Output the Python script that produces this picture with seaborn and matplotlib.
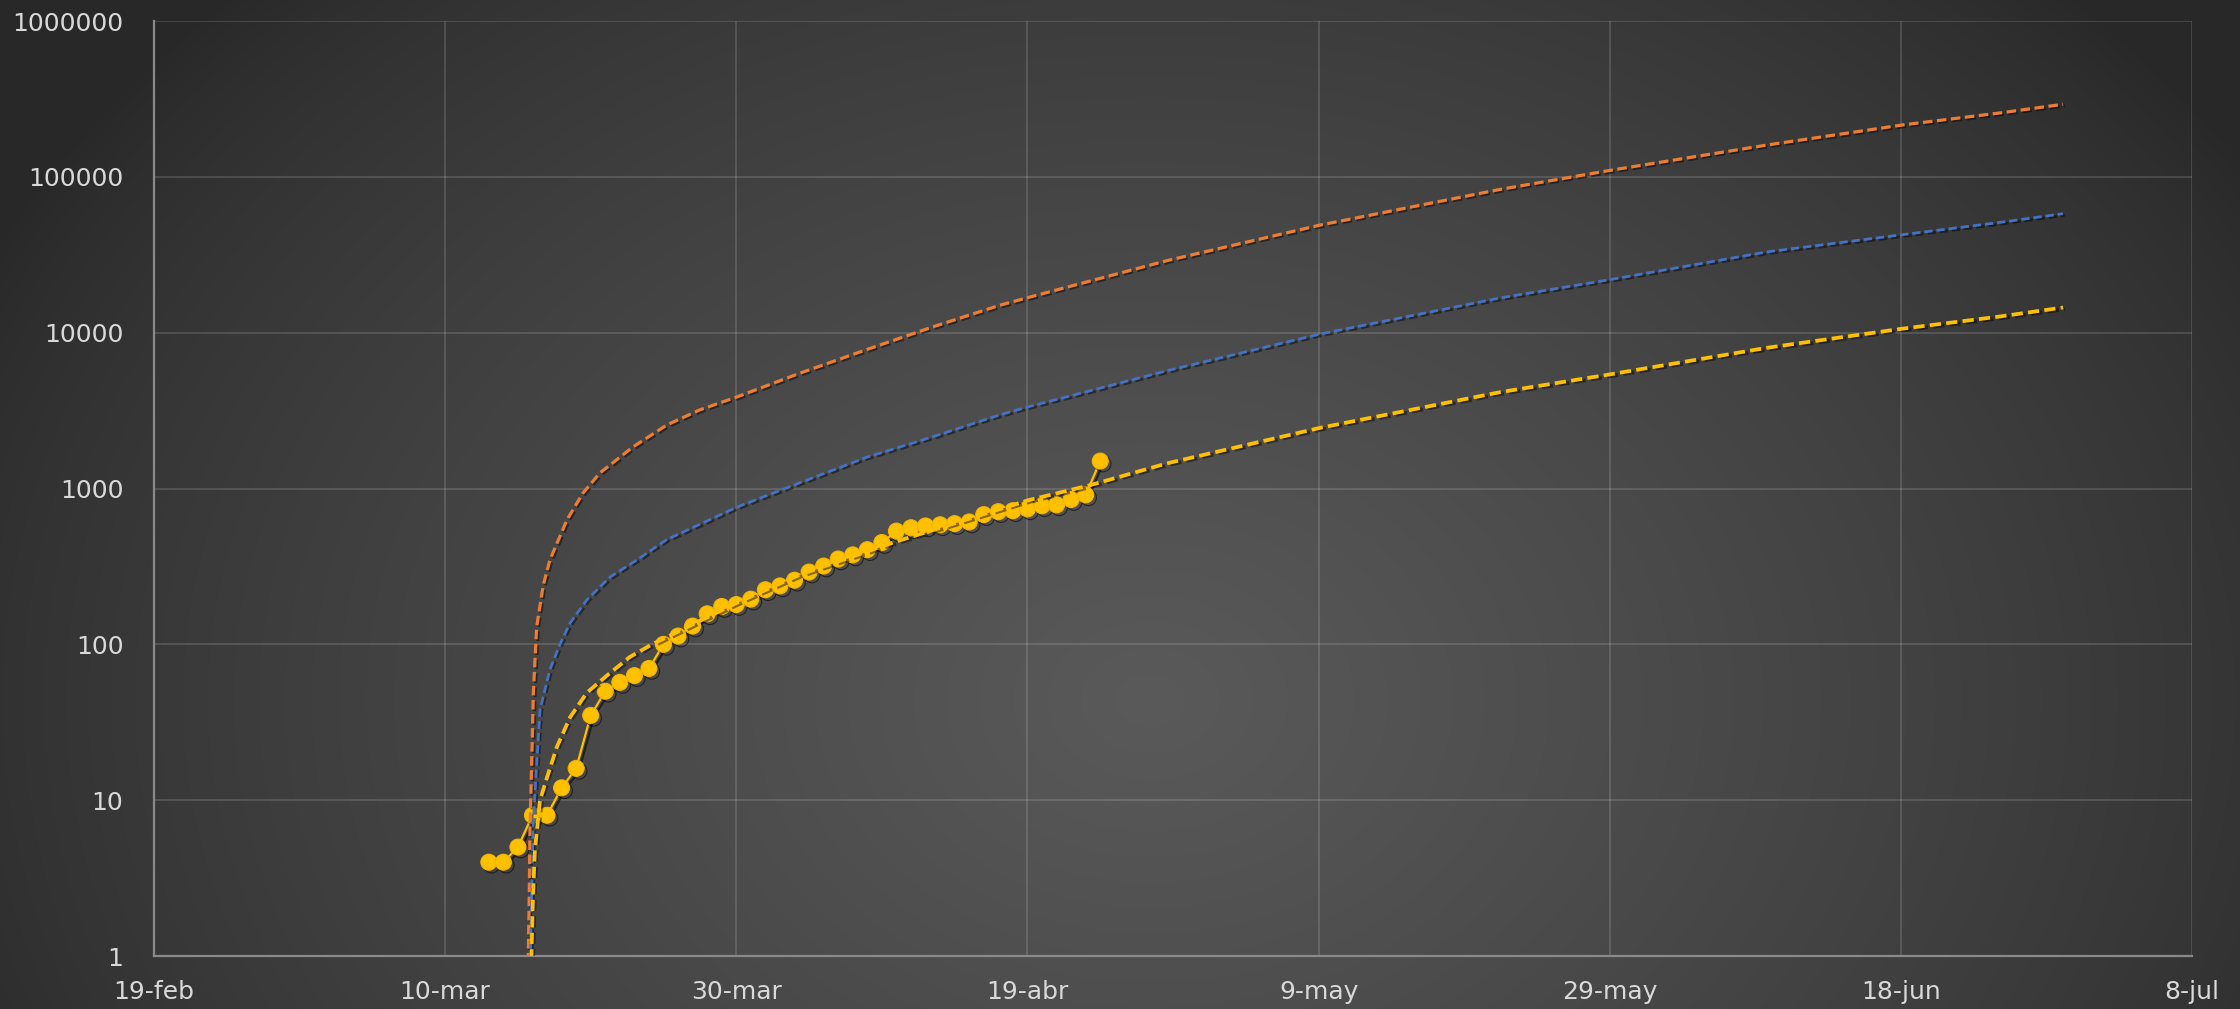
import numpy as np
import pandas as pd
import matplotlib
matplotlib.use("Agg")
import matplotlib.pyplot as plt
import matplotlib.patheffects as pe
from matplotlib.ticker import NullLocator
import seaborn as sns

# ---- data -------------------------------------------------------------
# Confirmed cases, one value per day from 13-mar to 24-abr 2020
case_dates = pd.date_range("2020-03-13", "2020-04-24", freq="D")
cases = [4, 4, 5, 8, 8, 12, 16, 35, 50, 57, 63, 70, 100, 113, 131, 157, 175, 180, 195,
         224, 237, 258, 291, 318, 353, 375, 405, 450, 533, 560, 575, 585, 595, 610,
         680, 710, 720, 740, 775, 785, 850, 910, 1500]

# Projection curves: days counted from 19-feb-2020 and projected cases
axis_start = pd.Timestamp("2020-02-19")

high_days = [25.66, 25.71, 25.78, 25.83, 25.95, 26.06, 26.29, 26.74, 27.20, 28.37,
             29.47, 30.64, 32.91, 35.24, 37.51, 40.05, 44.38, 48.98, 53.51, 58.11,
             60.04, 69.59, 80.10, 92.46, 100.02, 110.81, 120.08, 126.81, 131.14]
high_vals = [0.6, 1.0, 2.5, 6.7, 18, 49, 130, 240, 348, 630,
             935, 1260, 1850, 2560, 3200, 3870, 5500, 7800, 10900, 15000,
             16800, 29000, 49000, 83000, 110000, 160000, 215000, 257000, 292000]

mid_days = [25.81, 25.86, 26.04, 26.17, 26.52, 27.20, 27.89, 28.58, 29.74, 31.32,
            33.17, 35.22, 40.05, 44.38, 48.98, 53.51, 58.11, 60.04, 69.59, 80.10,
            92.46, 100.02, 110.81, 120.08, 126.81, 131.14]
mid_vals = [0.4, 1.0, 6.7, 11, 38, 69, 100, 137, 193, 270,
            348, 470, 760, 1090, 1590, 2150, 2970, 3340, 5700, 9800,
            16700, 21900, 33000, 42500, 51000, 58000]

low_days = [25.89, 25.93, 26.04, 26.17, 26.52, 27.00, 27.68, 28.58, 29.74, 31.11,
            32.69, 34.21, 40.05, 44.38, 50.77, 60.04, 64.30, 69.59, 80.10, 92.46,
            100.02, 110.81, 120.08, 126.81, 131.14]
low_vals = [0.4, 1.0, 2.5, 4.8, 10, 14, 22, 34, 49, 63,
            83, 100, 185, 280, 450, 840, 1050, 1450, 2450, 4150,
            5400, 8000, 10600, 12700, 14500]

tick_dates = pd.date_range("2020-02-19", periods=8, freq="20D")
tick_labels = ["19-feb", "10-mar", "30-mar", "19-abr", "9-may", "29-may", "18-jun", "8-jul"]
y_ticks = [1, 10, 100, 1000, 10000, 100000, 1000000]
y_labels = ["1", "10", "100", "1000", "10000", "100000", "1000000"]

# ---- figure -----------------------------------------------------------
sns.set_theme(style="dark")
plt.rcParams["font.family"] = ["DejaVu Sans"]

W, H = 2240, 1009
fig = plt.figure(figsize=(W / 100, H / 100), dpi=100)

# dark radial gradient behind the whole chart
yy, xx = np.mgrid[0:H, 0:W]
r = np.sqrt(((xx - 1150) / 1300.0) ** 2 + ((yy - 700) / 1000.0) ** 2)
v = (40 + 50 * np.clip(1 - r, 0, 1) ** 0.75) / 255.0
bg = np.dstack([v, v, v])
ax_bg = fig.add_axes([0, 0, 1, 1], zorder=0)
ax_bg.imshow(bg, extent=[0, 1, 0, 1], aspect="auto", interpolation="bilinear")
ax_bg.set_axis_off()

left, right, top, bottom = 154, 2192, 21, 956
ax = fig.add_axes([left / W, 1 - bottom / H, (right - left) / W, (bottom - top) / H], zorder=1)
ax.set_facecolor("none")

shadow = [pe.SimpleLineShadow(offset=(2, -2), shadow_color="black", alpha=0.55), pe.Normal()]
thin_shadow = [pe.SimpleLineShadow(offset=(1.2, -1.2), shadow_color="black", alpha=0.45), pe.Normal()]

cases_df = pd.DataFrame({"fecha": case_dates, "casos": cases})
sns.lineplot(data=cases_df, x="fecha", y="casos", ax=ax, color="#FFC000", lw=1.6,
             marker="o", markersize=11.5, markeredgecolor="#F2B500", markeredgewidth=0.8,
             estimator=None, sort=False, zorder=3, path_effects=shadow)

curves = [
    (high_days, high_vals, "#ED7D31", 2.3),
    (mid_days, mid_vals, "#4472C4", 2.0),
    (low_days, low_vals, "#FFC000", 2.7),
]
for days, vals, col, lw in curves:
    df = pd.DataFrame({"fecha": axis_start + pd.to_timedelta(days, unit="D"), "casos": vals})
    sns.lineplot(data=df, x="fecha", y="casos", ax=ax, color=col, lw=lw,
                 linestyle=(0, (3, 1.4)), estimator=None, sort=False, zorder=4,
                 path_effects=thin_shadow)

ax.set_yscale("log")
ax.set_ylim(1, 1e6)
ax.set_xlim(tick_dates[0], tick_dates[-1])
ax.set_yticks(y_ticks)
ax.set_yticklabels(y_labels)
ax.yaxis.set_minor_locator(NullLocator())
ax.set_xticks(tick_dates)
ax.set_xticklabels(tick_labels)
ax.set_xlabel("")
ax.set_ylabel("")

ax.grid(True, which="major", color="#ffffff", alpha=0.16, lw=1.2)
ax.tick_params(axis="both", length=0, labelsize=18, labelcolor="#D9D9D9")
ax.tick_params(axis="y", pad=22)
ax.tick_params(axis="x", pad=17)
for side in ["top", "right"]:
    ax.spines[side].set_visible(False)
for side in ["left", "bottom"]:
    ax.spines[side].set_visible(True)
    ax.spines[side].set_color("#8A8A8A")
    ax.spines[side].set_linewidth(1.6)

fig.savefig("out.png", dpi=100)
